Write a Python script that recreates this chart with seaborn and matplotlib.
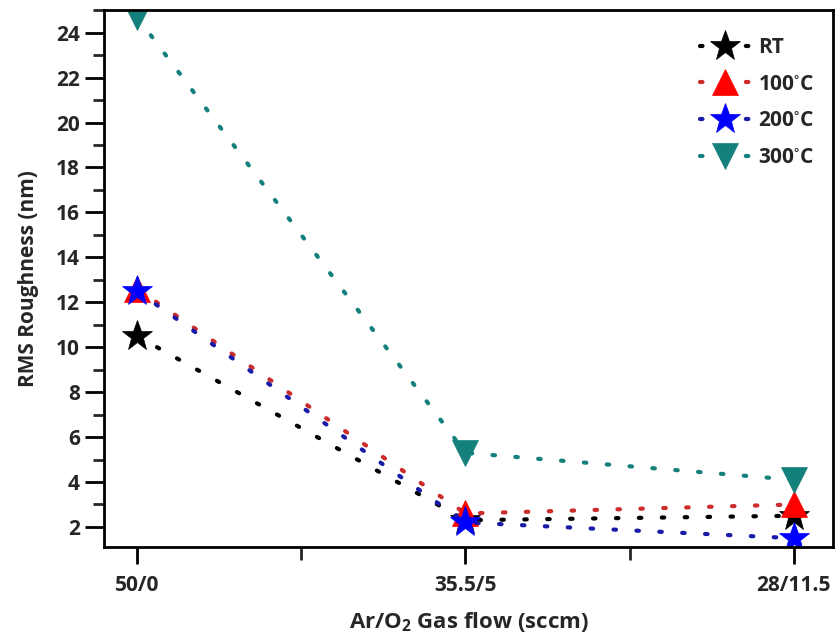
import matplotlib
matplotlib.use("Agg")
import matplotlib.pyplot as plt
from matplotlib.ticker import MultipleLocator, FixedLocator
import seaborn as sns
import pandas as pd

# Gas flow conditions (Ar/O2, sccm)
flows = ["50/0", "35.5/5", "28/11.5"]

# RMS roughness (nm) for each deposition temperature
rt = [10.5, 2.3, 2.5]
t100 = [12.6, 2.6, 3.0]
t200 = [12.5, 2.2, 1.5]
t300 = [24.7, 5.3, 4.1]

series_labels = ["RT", "100$^{\\circ}$C", "200$^{\\circ}$C", "300$^{\\circ}$C"]
series_values = [rt, t100, t200, t300]
marker_colors = ["#000000", "#ff0000", "#0000ff", "#14807b"]
line_colors = ["#000000", "#cc2b2b", "#1a1aa8", "#14807b"]
marker_shapes = ["*", "^", "*", "v"]
marker_sizes = [23, 19, 23, 19]

sns.set_theme(style="ticks")
plt.rcParams["font.family"] = ["Open Sans", "DejaVu Sans"]
plt.rcParams["mathtext.default"] = "regular"

fig = plt.figure(figsize=(8.4, 6.37), dpi=100)
ax = fig.add_axes([0.124, 0.141, 0.868, 0.843])

for lab, vals, mc, lc, m, ms in zip(series_labels, series_values, marker_colors,
                                    line_colors, marker_shapes, marker_sizes):
    df = pd.DataFrame({"pos": range(len(flows)), "rms": vals})
    sns.lineplot(data=df, x="pos", y="rms", ax=ax, color=lc, label=lab,
                 linestyle=(0, (0.6, 4.9)), linewidth=3, dash_capstyle="round",
                 marker=m, markersize=ms, markerfacecolor=mc,
                 markeredgecolor=mc, markeredgewidth=0.5, sort=False)

ax.set_xlim(-0.1, 2.12)
ax.set_ylim(1.1, 25)
ax.set_xticks(range(len(flows)))
ax.set_xticklabels(flows)
ax.xaxis.set_minor_locator(FixedLocator([0.5, 1.5]))
ax.set_yticks(range(2, 25, 2))
ax.yaxis.set_minor_locator(MultipleLocator(1))

ax.tick_params(axis="both", which="major", direction="out", width=2,
               labelsize=15, color="black")
ax.tick_params(axis="y", which="major", length=14)
ax.tick_params(axis="y", which="minor", length=8, width=2)
ax.tick_params(axis="x", which="major", length=12, pad=8)
ax.tick_params(axis="x", which="minor", length=9, width=2)
ax.tick_params(top=False, right=False, which="both")
for t in ax.get_xticklabels() + ax.get_yticklabels():
    t.set_fontweight("bold")

for sp in ax.spines.values():
    sp.set_linewidth(2)
    sp.set_color("black")

ax.set_xlabel("Ar/O$_2$ Gas flow (sccm)", fontsize=16, fontweight="bold",
              labelpad=10)
ax.set_ylabel("RMS Roughness (nm)", fontsize=15, fontweight="bold",
              labelpad=12)

leg = ax.legend(loc="upper right", bbox_to_anchor=(1.0, 0.985), frameon=False,
                fontsize=15, handlelength=2.4, handletextpad=0.4,
                labelspacing=0.75)
for t in leg.get_texts():
    t.set_fontweight("bold")

ax.grid(False)
fig.savefig("out.png", dpi=100)
